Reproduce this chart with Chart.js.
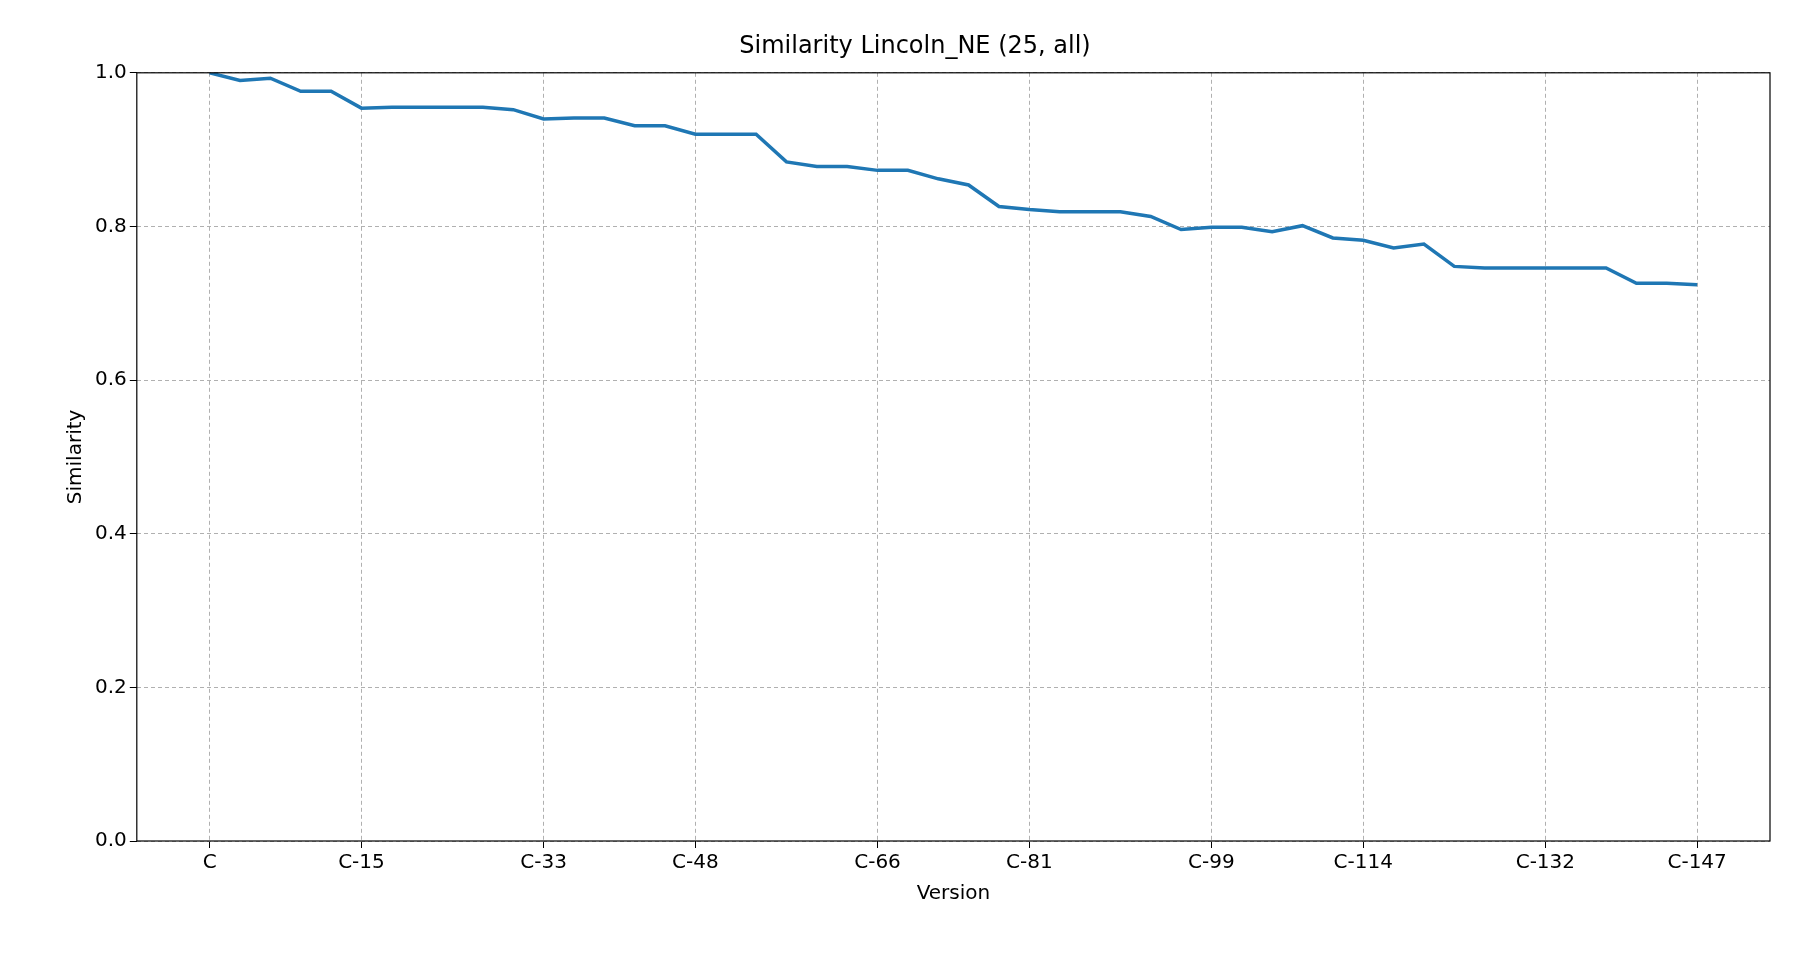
<!DOCTYPE html>
<html>
<head>
<meta charset="utf-8">
<script src="https://cdn.jsdelivr.net/npm/chart.js@4"></script>
<style>
  html, body { margin: 0; padding: 0; background: #fff; }
  #wrap { width: 1800px; height: 960px; }
</style>
</head>
<body>
<div id="wrap"><canvas id="grafico"></canvas></div>
<script>
// === DADOS ===
const versions = ['C', 'C-3', 'C-6', 'C-9', 'C-12', 'C-15', 'C-18', 'C-21', 'C-24', 'C-27',
  'C-30', 'C-33', 'C-36', 'C-39', 'C-42', 'C-45', 'C-48', 'C-51', 'C-54', 'C-57',
  'C-60', 'C-63', 'C-66', 'C-69', 'C-72', 'C-75', 'C-78', 'C-81', 'C-84', 'C-87',
  'C-90', 'C-93', 'C-96', 'C-99', 'C-102', 'C-105', 'C-108', 'C-111', 'C-114', 'C-117',
  'C-120', 'C-123', 'C-126', 'C-129', 'C-132', 'C-135', 'C-138', 'C-141', 'C-144', 'C-147'];
const similarity = [1.000, 0.990, 0.993, 0.976, 0.976, 0.954, 0.955, 0.955, 0.955, 0.955,
  0.952, 0.940, 0.941, 0.941, 0.931, 0.931, 0.920, 0.920, 0.920, 0.884,
  0.878, 0.878, 0.873, 0.873, 0.862, 0.854, 0.826, 0.822, 0.819, 0.819,
  0.819, 0.813, 0.796, 0.799, 0.799, 0.793, 0.801, 0.785, 0.782, 0.772,
  0.777, 0.748, 0.746, 0.746, 0.746, 0.746, 0.746, 0.726, 0.726, 0.724];
const tickVersions = ['C', 'C-15', 'C-33', 'C-48', 'C-66', 'C-81', 'C-99', 'C-114', 'C-132', 'C-147'];
const yTicks = [0.0, 0.2, 0.4, 0.6, 0.8, 1.0];

const tickIdx = tickVersions.map(v => versions.indexOf(v));
const font = { family: 'DejaVu Sans', size: 20 };

// moldura preta em volta da área do gráfico
const moldura = {
  id: 'moldura',
  afterDraw(chart) {
    const a = chart.chartArea, c = chart.ctx;
    c.save();
    c.strokeStyle = '#000';
    c.lineWidth = 1.2;
    c.strokeRect(a.left, a.top, a.right - a.left, a.bottom - a.top);
    c.restore();
  }
};

new Chart(document.getElementById('grafico'), {
  type: 'line',
  data: {
    datasets: [{
      data: similarity.map((s, i) => ({ x: i, y: s })),
      borderColor: '#1f77b4',
      borderWidth: 3.5,
      pointRadius: 0,
      fill: false,
      tension: 0
    }]
  },
  options: {
    responsive: true,
    maintainAspectRatio: false,
    animation: false,
    layout: { padding: { left: 60, right: 30, top: 18, bottom: 50 } },
    plugins: {
      legend: { display: false },
      tooltip: { enabled: false },
      title: {
        display: true,
        text: 'Similarity Lincoln_NE (25, all)',
        color: '#000',
        font: { family: 'DejaVu Sans', size: 24, weight: 'normal' },
        padding: { top: 14, bottom: 12 }
      }
    },
    scales: {
      x: {
        type: 'linear',
        min: -2.4,
        max: 51.4,
        afterBuildTicks: axis => { axis.ticks = tickIdx.map(v => ({ value: v })); },
        ticks: {
          color: '#000', font, maxRotation: 0, autoSkip: false,
          callback: v => versions[v]
        },
        grid: { color: '#b0b0b0', borderDash: [4, 3], tickColor: '#000', tickLength: 7 },
        border: { display: false, dash: [4, 3] },
        title: { display: true, text: 'Version', color: '#000', font }
      },
      y: {
        min: 0,
        max: 1,
        afterBuildTicks: axis => { axis.ticks = yTicks.map(v => ({ value: v })); },
        ticks: { color: '#000', font, callback: v => v.toFixed(1) },
        grid: { color: '#b0b0b0', tickColor: '#000', tickLength: 7 },
        border: { display: false, dash: [4, 3] },
        title: { display: true, text: 'Similarity', color: '#000', font }
      }
    }
  },
  plugins: [moldura]
});
</script>
</body>
</html>
